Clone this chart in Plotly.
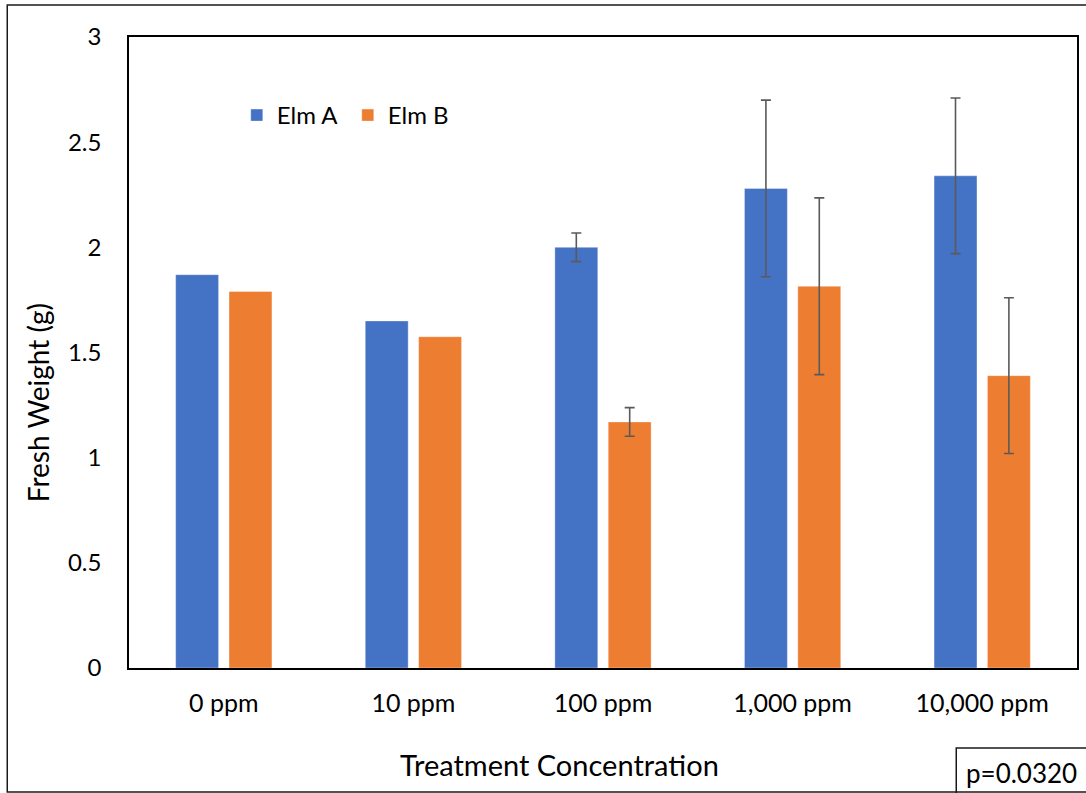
import numpy as np
import plotly.graph_objects as go

categories = ["0 ppm", "10 ppm", "100 ppm", "1,000 ppm", "10,000 ppm"]
elm_a = [1.87, 1.65, 2.00, 2.28, 2.34]
elm_b = [1.79, 1.575, 1.17, 1.815, 1.39]
err_a = np.array([np.nan, np.nan, 0.068, 0.42, 0.37])
err_b = np.array([np.nan, np.nan, 0.068, 0.42, 0.37])
y_ticks = [0, 0.5, 1, 1.5, 2, 2.5, 3]
p_text = "p=0.0320"

W, H = 1086, 793
L, R, T, B = 129, 1079, 37, 668
pw, ph = R - L, B - T
def px(x): return (x - L) / pw
def py(y): return (B - y) / ph

FONT = "Lato"
TXT = "#000000"

fig = go.Figure()
fig.add_bar(name="Elm A", x=categories, y=elm_a, marker_color="#4472C4",
            marker_line=dict(color="rgba(255,255,255,0.35)", width=1),
            error_y=dict(type="data", array=err_a, visible=True, color="#5a5a5a", thickness=1.6, width=5))
fig.add_bar(name="Elm B", x=categories, y=elm_b, marker_color="#ED7D31",
            marker_line=dict(color="rgba(255,255,255,0.35)", width=1),
            error_y=dict(type="data", array=err_b, visible=True, color="#5a5a5a", thickness=1.6, width=5))

fig.update_layout(
    width=W, height=H,
    margin=dict(l=L, r=W - R, t=T, b=H - B),
    paper_bgcolor="white", plot_bgcolor="white",
    barmode="group", bargap=0.437, bargroupgap=0.196,
    font=dict(family=FONT, size=22, color=TXT),
    showlegend=True,
    legend=dict(orientation="h", x=px(237), y=py(93), xanchor="left", yanchor="top",
                font=dict(family=FONT, size=24, color=TXT), bgcolor="rgba(0,0,0,0)",
                itemwidth=30, entrywidth=66, entrywidthmode="pixels", traceorder="normal"),
    xaxis=dict(type="category", showgrid=False, showline=True, mirror=True,
               linecolor="black", linewidth=1.5, ticks="outside", ticklen=12, tickcolor="rgba(0,0,0,0)",
               tickfont=dict(family=FONT, size=25, color=TXT)),
    yaxis=dict(range=[0, 3], tickvals=y_ticks, showgrid=False, showline=True, mirror=True,
               linecolor="black", linewidth=1.5, ticks="outside", ticklen=21, tickcolor="rgba(0,0,0,0)",
               zeroline=False, tickfont=dict(family=FONT, size=24, color=TXT)),
)

shapes = [
    dict(type="rect", xref="paper", yref="paper", x0=px(7), x1=px(1092), y0=py(792), y1=py(5),
         line=dict(color="#1a1a1a", width=1.5), fillcolor="rgba(0,0,0,0)", layer="below"),
    dict(type="rect", xref="paper", yref="paper", x0=px(958), x1=px(1095), y0=py(800), y1=py(748),
         line=dict(color="#1a1a1a", width=1.5), fillcolor="rgba(0,0,0,0)"),
]
fig.update_layout(shapes=shapes)

fig.add_annotation(text="Fresh Weight (g)", xref="paper", yref="paper", x=px(38), y=py(403),
                   textangle=-90, showarrow=False, font=dict(family=FONT, size=28, color=TXT),
                   xanchor="center", yanchor="middle")
fig.add_annotation(text="Treatment Concentration", xref="paper", yref="paper", x=px(560), y=py(764),
                   showarrow=False, font=dict(family=FONT, size=29, color=TXT),
                   xanchor="center", yanchor="middle")
fig.add_annotation(text=p_text, xref="paper", yref="paper", x=px(966), y=py(773),
                   showarrow=False, font=dict(family=FONT, size=26, color=TXT),
                   xanchor="left", yanchor="middle")

fig.write_html("out.html")
